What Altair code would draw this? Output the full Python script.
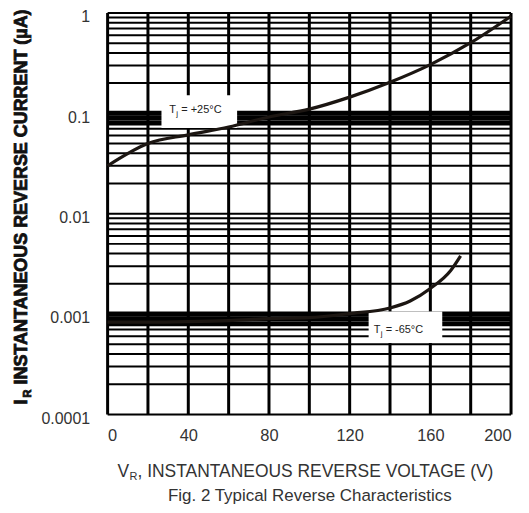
import altair as alt
import pandas as pd

# ---- data ----
VOLTAGE_25 = [0, 20, 40, 60, 80, 100, 120, 140, 160, 180, 200]
CURRENT_25 = [0.030, 0.050, 0.061, 0.073, 0.092, 0.110, 0.145, 0.204, 0.306, 0.505, 0.930]

VOLTAGE_M65 = [0, 20, 40, 60, 80, 100, 120, 140, 150, 160, 170, 175]
CURRENT_M65 = [0.00083, 0.00083, 0.00084, 0.00086, 0.00090, 0.00092, 0.00101,
               0.00115, 0.00135, 0.00180, 0.00270, 0.00380]

X_TICKS = [0, 40, 80, 120, 160, 200]
Y_TICKS = [1, 0.1, 0.01, 0.001, 0.0001]
X_GRID = [0, 20, 40, 60, 80, 100, 120, 140, 160, 180, 200]
DECADES = [0.0001, 0.001, 0.01, 0.1]
MULTIPLIERS = [1, 2, 3, 4, 5, 6, 7, 8, 9]
HEAVY_GRID = [0.08, 0.09, 0.1, 0.0008, 0.0009, 0.001]

LABELS = ["= +25°C", "= -65°C"]
LABEL_X = [30.6, 131.9]
LABEL_Y = [0.108, 0.00069]
BOX_X1 = [26.7, 129.4]
BOX_X2 = [64.2, 165.9]
BOX_Y1 = [0.0715, 0.000514]
BOX_Y2 = [0.151, 0.00106]

X_TITLE = ", INSTANTANEOUS REVERSE VOLTAGE (V)"
Y_TITLE = "INSTANTANEOUS REVERSE CURRENT (µA)"
CAPTION = "Fig. 2 Typical Reverse Characteristics"

# ---- tables ----
y_grid = [round(d * m, 6) for d in DECADES for m in MULTIPLIERS] + [1]
curves = pd.DataFrame(
    {"v": VOLTAGE_25 + VOLTAGE_M65,
     "i": CURRENT_25 + CURRENT_M65,
     "s": ["+25"] * len(VOLTAGE_25) + ["-65"] * len(VOLTAGE_M65)}
)
labels = pd.DataFrame({"t": LABELS, "x": LABEL_X, "y": LABEL_Y,
                       "x1": BOX_X1, "x2": BOX_X2, "y1": BOX_Y1, "y2": BOX_Y2})

FONT = "Liberation Sans"
xs = alt.Scale(domain=[0, 200], nice=False)
ys = alt.Scale(type="log", domain=[0.0001, 1], nice=False)

xaxis = alt.Axis(values=X_TICKS, grid=False, ticks=False, domain=False, title=None,
                 labelPadding=13, labelFontSize=16.5, labelFont=FONT, labelColor="#333")
yaxis = alt.Axis(values=Y_TICKS, grid=False, ticks=False, domain=False, title=None,
                 labelPadding=18, labelFontSize=16, labelFont=FONT, labelColor="#333",
                 labelOffset=4, labelExpr="format(datum.value, '~g')")

vgrid = alt.Chart(pd.DataFrame({"v": X_GRID})).mark_rule(color="black", strokeWidth=3).encode(
    x=alt.X("v:Q", scale=xs, axis=xaxis))
hgrid = alt.Chart(pd.DataFrame({"i": y_grid})).mark_rule(color="black", strokeWidth=2).encode(
    y=alt.Y("i:Q", scale=ys, axis=yaxis))
hheavy = alt.Chart(pd.DataFrame({"i": HEAVY_GRID})).mark_rule(color="black", strokeWidth=5).encode(
    y=alt.Y("i:Q", scale=ys))

boxes = alt.Chart(labels).mark_rect(color="white").encode(
    x=alt.X("x1:Q", scale=xs), x2="x2:Q",
    y=alt.Y("y1:Q", scale=ys), y2="y2:Q")

lines = alt.Chart(curves).mark_line(color="#1c1612", strokeWidth=3.2, interpolate="monotone").encode(
    x=alt.X("v:Q", scale=xs), y=alt.Y("i:Q", scale=ys), detail="s:N")

tT = alt.Chart(labels).mark_text(align="left", baseline="middle", font=FONT, fontSize=11,
                                 color="#222").encode(
    x=alt.X("x:Q", scale=xs), y=alt.Y("y:Q", scale=ys), text=alt.value("T"))
tj = alt.Chart(labels).mark_text(align="left", baseline="middle", font=FONT, fontSize=8,
                                 color="#222", dx=7, dy=4).encode(
    x=alt.X("x:Q", scale=xs), y=alt.Y("y:Q", scale=ys), text=alt.value("j"))
trest = alt.Chart(labels).mark_text(align="left", baseline="middle", font=FONT, fontSize=11,
                                    color="#222", dx=12).encode(
    x=alt.X("x:Q", scale=xs), y=alt.Y("y:Q", scale=ys), text="t:N")

one = pd.DataFrame({"k": [0]})
def txt(s, x, y, size, **kw):
    return alt.Chart(one).mark_text(font=FONT, fontSize=size, color="#333", **kw).encode(
        x=alt.value(x), y=alt.value(y), text=alt.value(s))

xt_v = txt("V", 10, 461, 17.5, align="left", baseline="middle")
xt_r = txt("R", 22, 466, 11, align="left", baseline="middle")
xt_rest = txt(X_TITLE, 30, 461, 17.5, align="left", baseline="middle")
cap = txt(CAPTION, 203, 485, 17, align="center", baseline="middle")

def ytxt(s, x, y, size):
    return alt.Chart(one).mark_text(font=FONT, fontSize=size, fontWeight="bold", color="#111",
                                    stroke="#111", strokeWidth=0.8,
                                    angle=270, align="left", baseline="middle").encode(
        x=alt.value(x), y=alt.value(y), text=alt.value(s))

yt_i = ytxt("I", -86, 393, 18)
yt_r = ytxt("R", -80, 386, 11)
yt_rest = ytxt(Y_TITLE, -86, 373, 18)

chart = alt.layer(vgrid, hgrid, hheavy, boxes, lines, tT, tj, trest,
                  xt_v, xt_r, xt_rest, cap, yt_i, yt_r, yt_rest).properties(
    width=405, height=403,
    autosize=alt.AutoSizeParams(type="none"),
    padding={"left": 100, "top": 4, "right": 10, "bottom": 90},
).configure_view(stroke="black", strokeWidth=2).configure(background="white")

chart.save("out.html", embed_options={"renderer": "svg", "actions": False})
